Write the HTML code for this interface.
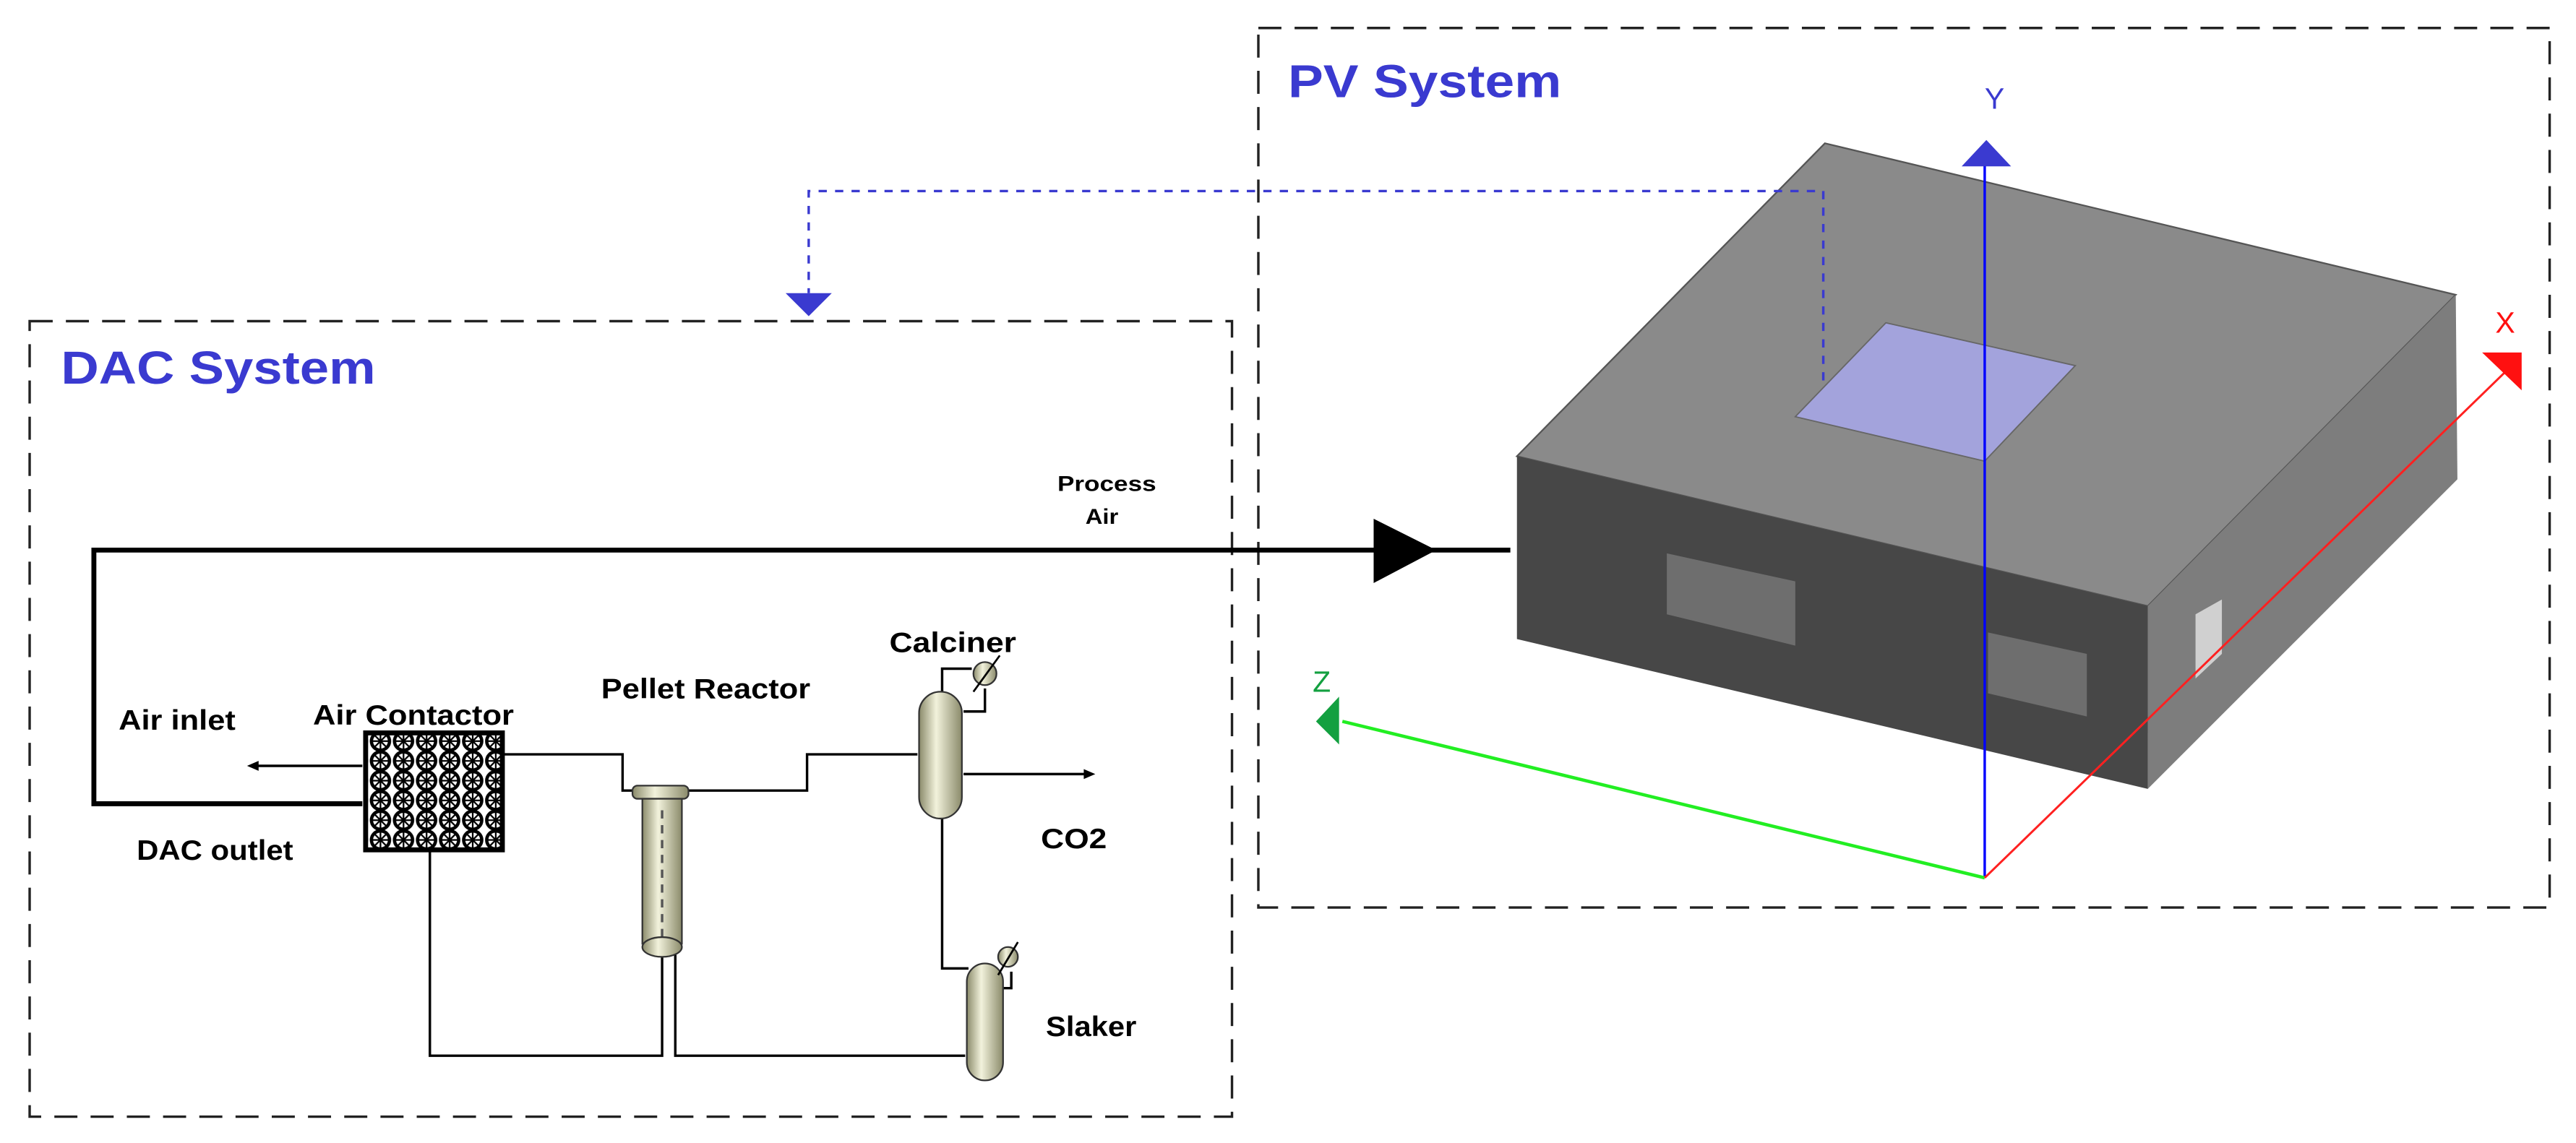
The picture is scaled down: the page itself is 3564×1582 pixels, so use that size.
<!DOCTYPE html>
<html><head><meta charset="utf-8"><style>
html,body{margin:0;padding:0;background:#fff;width:3564px;height:1582px;overflow:hidden}
svg{display:block}
text{font-family:"Liberation Sans",Arial,sans-serif}
</style></head><body>
<svg width="3564" height="1582" viewBox="0 0 1564 694" preserveAspectRatio="none">
<defs>
<pattern id="pat" width="14" height="12" patternUnits="userSpaceOnUse">
<rect width="14" height="12" fill="#fff"/>
<circle cx="7" cy="6" r="5.5" fill="none" stroke="#000" stroke-width="2"/>
<path d="M7 0.5V11.5M1.5 6H12.5M3 2L11 10M11 2L3 10" stroke="#000" stroke-width="1"/>
</pattern>
<linearGradient id="col" x1="0" x2="1">
<stop offset="0" stop-color="#8a8a6a"/><stop offset="0.4" stop-color="#f2f2dc"/><stop offset="1" stop-color="#8a8a6a"/>
</linearGradient>
</defs>
<!-- boxes -->
<rect x="18" y="195" width="730" height="483" fill="none" stroke="#222" stroke-width="1.5" stroke-dasharray="14,8"/>
<rect x="764" y="17" width="784" height="534" fill="none" stroke="#222" stroke-width="1.5" stroke-dasharray="14,8"/>
<text x="37" y="233" font-size="28" font-weight="bold" fill="#3a3ad0" textLength="191" lengthAdjust="spacingAndGlyphs">DAC System</text>
<text x="782" y="59" font-size="28" font-weight="bold" fill="#3a3ad0" textLength="166" lengthAdjust="spacingAndGlyphs">PV System</text>

<!-- PV box -->
<polygon points="1108,87 1491,179 1304,368 921,277" fill="#8a8a8a" stroke="#555" stroke-width="1"/>
<polygon points="921,277 1304,368 1304,479 921,388" fill="#474747"/>
<polygon points="1304,368 1491,179 1492,291 1304,479" fill="#7d7d7d"/>
<polygon points="1145,196 1260,222 1205,280 1090,253" fill="#a3a3dc" stroke="#666" stroke-width="0.8"/>
<polygon points="1012,336 1090,353 1090,392 1012,373" fill="#6e6e6e"/>
<polygon points="1207,384 1267,397 1267,435 1207,421" fill="#6e6e6e"/>
<polygon points="1333,373 1349,364 1349,397 1333,412" fill="#d0d0d0"/>
<!-- dotted blue -->
<path d="M1107,231 V116 H491 V178" fill="none" stroke="#3a3ad0" stroke-width="1.5" stroke-dasharray="5,5"/>
<polygon points="477,178 505,178 491,192" fill="#3a3ad0"/>
<!-- axes -->
<line x1="1205" y1="533" x2="1205" y2="100" stroke="#0000ff" stroke-width="1.5"/>
<polygon points="1191,101 1221,101 1206,85" fill="#3a3ad0"/>
<text x="1205" y="66" font-size="18" fill="#3a3ad0" font-family="Liberation Serif">Y</text>
<line x1="1205" y1="533" x2="815" y2="438" stroke="#22ee22" stroke-width="2"/>
<polygon points="813,423 813,452 799,438" fill="#13a040"/>
<text x="797" y="420" font-size="18" fill="#13a040" font-family="Liberation Serif">Z</text>
<line x1="1205" y1="533" x2="1525" y2="222" stroke="#ff2020" stroke-width="1.3"/>
<polygon points="1507,214 1531,214 1531,237" fill="#ff1010"/>
<text x="1515" y="202" font-size="18" fill="#ff1010" font-family="Liberation Serif">X</text>

<!-- process air -->
<path d="M917,334 H57 V488 H220" fill="none" stroke="#000" stroke-width="3"/>
<polygon points="834,315 872,334 834,354" fill="#000"/>
<text x="642" y="298" font-size="13" font-weight="bold" fill="#000" textLength="60" lengthAdjust="spacingAndGlyphs">Process</text>
<text x="659" y="318" font-size="13" font-weight="bold" fill="#000" textLength="20" lengthAdjust="spacingAndGlyphs">Air</text>

<!-- air contactor -->
<rect x="222" y="445" width="83" height="71" fill="url(#pat)" stroke="#000" stroke-width="3"/>
<g font-size="17" font-weight="bold" fill="#000">
<text x="190" y="440" textLength="122" lengthAdjust="spacingAndGlyphs">Air Contactor</text>
<text x="72" y="443" textLength="71" lengthAdjust="spacingAndGlyphs">Air inlet</text>
<text x="83" y="522" textLength="95" lengthAdjust="spacingAndGlyphs">DAC outlet</text>
<text x="365" y="424" textLength="127" lengthAdjust="spacingAndGlyphs">Pellet Reactor</text>
<text x="540" y="396" textLength="77" lengthAdjust="spacingAndGlyphs">Calciner</text>
<text x="632" y="515" textLength="40" lengthAdjust="spacingAndGlyphs">CO2</text>
<text x="635" y="629" textLength="55" lengthAdjust="spacingAndGlyphs">Slaker</text>
</g>
<line x1="220" y1="465" x2="155" y2="465" stroke="#000" stroke-width="1.5"/>
<polygon points="150,465 157,462 157,468" fill="#000"/>

<!-- lines -->
<g fill="none" stroke="#000" stroke-width="1.5">
<path d="M306,458 H378 V480 H490 V458 H557"/>
<path d="M261,516 V641 H402 V578"/>
<path d="M410,578 V641 H586"/>
<path d="M572,497 V588 H588"/>
<path d="M585,470 H660"/>
<path d="M572,420 V406 H590 M585,432 H598 V418"/>
<path d="M594,598 V588 H604 M604,600 H614 V590"/>
</g>
<polygon points="665,470 658,467 658,473" fill="#000"/>

<!-- pellet reactor -->
<rect x="384" y="477" width="34" height="8" rx="3" fill="url(#col)" stroke="#333" stroke-width="1"/>
<rect x="390" y="485" width="24" height="88" fill="url(#col)" stroke="#333" stroke-width="1"/>
<path d="M402,492 V570" stroke="#555" stroke-width="1.5" stroke-dasharray="5,4"/>
<ellipse cx="402" cy="575" rx="12" ry="6" fill="url(#col)" stroke="#333" stroke-width="1"/>

<!-- calciner -->
<rect x="558" y="420" width="26" height="77" rx="13" fill="url(#col)" stroke="#333" stroke-width="1"/>
<circle cx="598" cy="409" r="7" fill="url(#col)" stroke="#333" stroke-width="1"/>
<line x1="591" y1="420" x2="607" y2="398" stroke="#000" stroke-width="1.2"/>

<!-- slaker -->
<rect x="587" y="585" width="22" height="71" rx="11" fill="url(#col)" stroke="#333" stroke-width="1"/>
<circle cx="612" cy="581" r="6" fill="url(#col)" stroke="#333" stroke-width="1"/>
<line x1="606" y1="592" x2="618" y2="572" stroke="#000" stroke-width="1.2"/>
</svg>
</body></html>
